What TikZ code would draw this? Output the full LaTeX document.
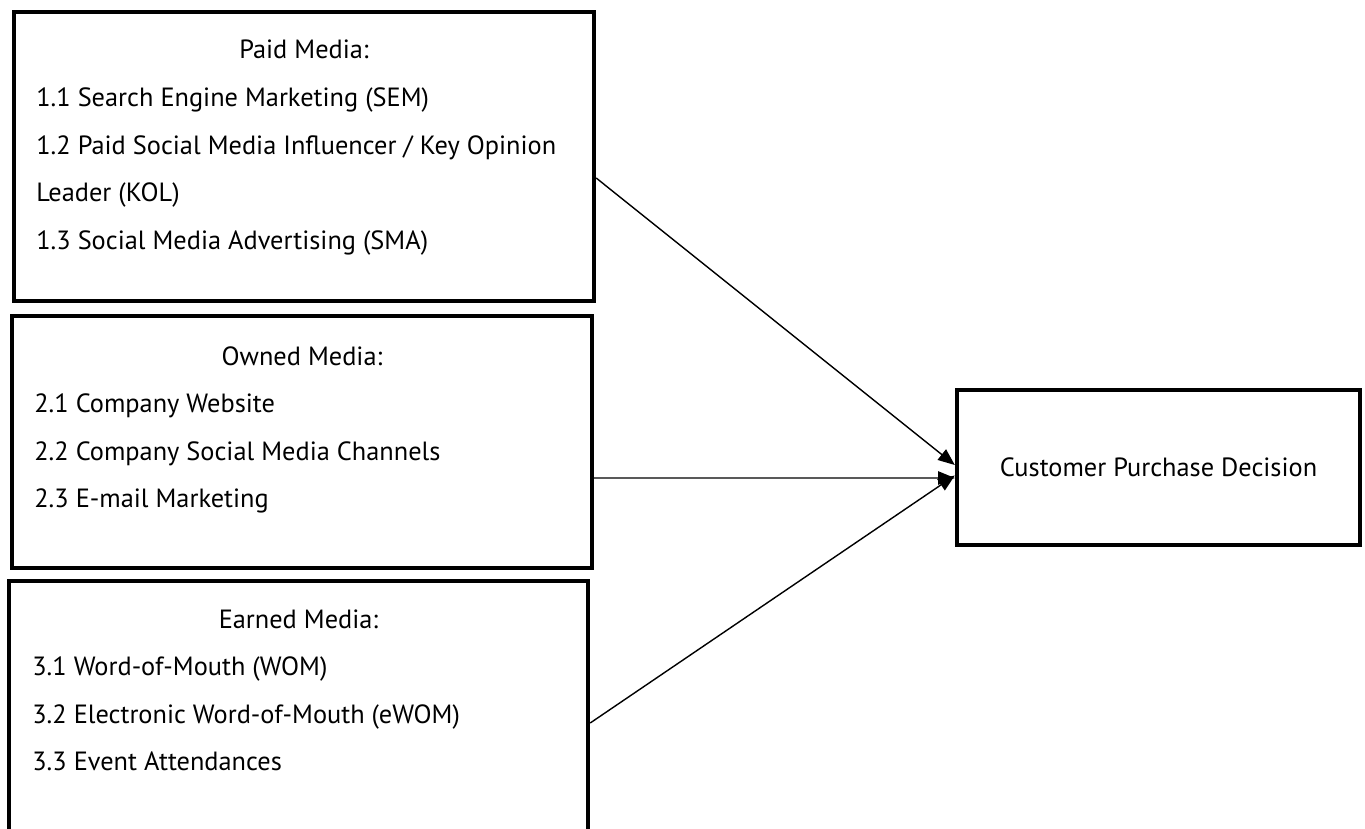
\documentclass[tikz,border=0pt]{standalone}
\usepackage{fontspec}
\setmainfont{PT Sans}
\usetikzlibrary{calc,arrows.meta}

\begin{document}
\begin{tikzpicture}[x=0.02cm, y=-0.02cm, font=\fontsize{15}{18}\selectfont, >={Triangle[length=9.5pt,width=7.6pt]},
  mbox/.style={draw, line width=2.55pt, inner sep=0pt},
  head/.style={anchor=base, inner sep=0pt},
  item/.style={anchor=base west, inner sep=0pt},
  link/.style={->, line width=0.8pt}]
	\clip (0,0) rectangle (1365,828);
	% the three media boxes and the outcome box
	\node[mbox, minimum width=11.6cm, minimum height=5.78cm] (paid) at (304,156.5) {};
	\node[mbox, minimum width=11.6cm, minimum height=5.04cm] (owned) at (302,442) {};
	\node[mbox, minimum width=11.58cm, minimum height=5.38cm] (earned) at (298.5,715.5) {};
	\node[mbox, minimum width=8.06cm, minimum height=3.1cm] (decision) at (1158.5,467.5) {};
	% paid media
	\node[head] (paidT) at (304,59) {Paid Media:};
	\node[item] (paid1) at (36,106.5) {1.1 Search Engine Marketing (SEM)};
	\node[item] (paid2) at (36,154) {1.2 Paid Social Media Influencer / Key Opinion};
	\node[item] (paid3) at (36,201.5) {Leader (KOL)};
	\node[item] (paid4) at (36,249) {1.3 Social Media Advertising (SMA)};
	% owned media
	\node[head] (ownedT) at (302,365) {Owned Media:};
	\node[item] (owned1) at (34,412.5) {2.1 Company Website};
	\node[item] (owned2) at (34,460) {2.2 Company Social Media Channels};
	\node[item] (owned3) at (34,507.5) {2.3 E-mail Marketing};
	% earned media
	\node[head] (earnedT) at (298.5,628) {Earned Media:};
	\node[item] (earned1) at (32,675.5) {3.1 Word-of-Mouth (WOM)};
	\node[item] (earned2) at (32,723) {3.2 Electronic Word-of-Mouth (eWOM)};
	\node[item] (earned3) at (32,770.5) {3.3 Event Attendances};
	\node[head] (decisionT) at (1158.5,476.5) {Customer Purchase Decision};
	% arrows
	\draw[link] ($(paid.east)+(0,21.5)$) -- ($(decision.west)+(0,-2.5)$);
	\draw[link] ($(owned.east)+(0,36)$) -- ($(decision.west)+(0,10.5)$);
	\draw[link] ($(earned.east)+(0,7.5)$) -- ($(decision.west)+(0,8)$);
\end{tikzpicture}
\end{document}
